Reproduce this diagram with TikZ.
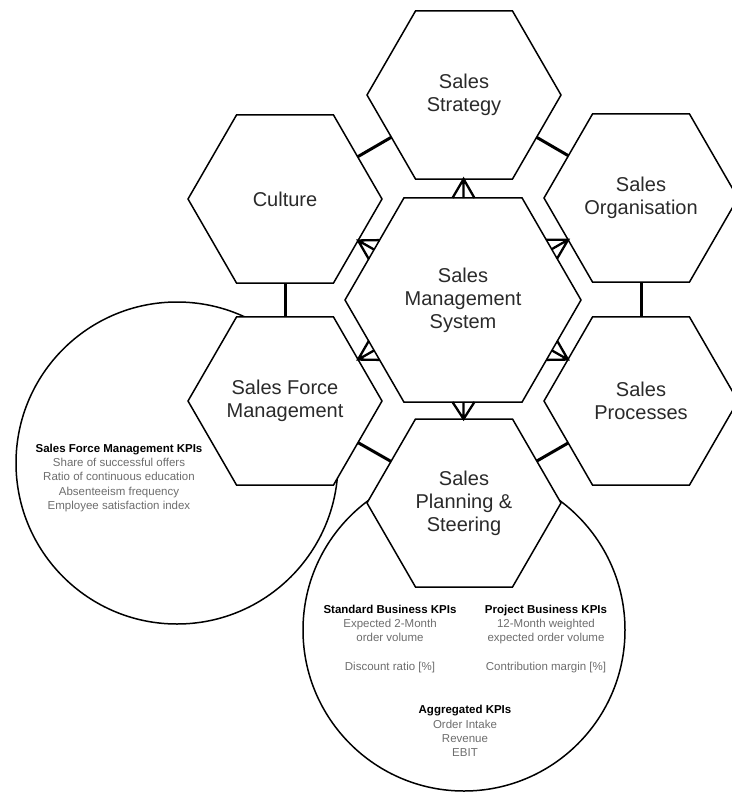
\documentclass[tikz,border=0pt]{standalone}
\usepackage{fontspec}
\setmainfont{Liberation Sans}
\usetikzlibrary{shapes.geometric,calc}
\definecolor{hextext}{HTML}{2A2A2A}
\definecolor{kpigray}{HTML}{6E6E6E}
\begin{document}
\begin{tikzpicture}[x=1pt,y=-1pt,
  hexbig/.style={regular polygon, regular polygon sides=6, minimum size=236pt, inner sep=0pt, draw=black, line width=1.5pt, fill=white, align=center, text=hextext, font=\fontsize{20}{23}\selectfont},
  hexsmall/.style={hexbig, minimum size=194pt},
  kpicircle/.style={circle, draw=black, line width=1.5pt, fill=white, minimum size=322pt, inner sep=0pt},
  link/.style={line width=3pt},
  foot/.style={line width=2.3pt, line join=miter},
  kpibody/.style={align=center, font=\fontsize{11.5}{14.3}\selectfont, text=kpigray, inner sep=0pt}
]
\useasboundingbox (0,0) rectangle (731,792);

% KPI circles (behind)
\node[kpicircle] (kpisfm) at (177,463) {};
\node[kpicircle] (kpiplan) at (464,630) {};

% hexagons
\node[hexbig] (sms) at (463,300) {Sales\\Management\\System};
\node[hexsmall] (strat) at (464,95) {Sales\\Strategy};
\node[hexsmall] (org) at (641,198) {Sales\\Organisation};
\node[hexsmall] (proc) at (641,401) {Sales\\Processes};
\node[hexsmall] (plan) at (464,503) {Sales\\Planning \&\\Steering};
\node[hexsmall] (sfm) at (285,401) {Sales Force\\Management};
\node[hexsmall] (cult) at (285,199) {Culture};

% outer ring links
\draw[link] ($(cult)!84pt!(strat)$) -- ($(strat)!84pt!(cult)$);
\draw[link] ($(strat)!84pt!(org)$) -- ($(org)!84pt!(strat)$);
\draw[link] ($(org)!84pt!(proc)$) -- ($(proc)!84pt!(org)$);
\draw[link] ($(proc)!84pt!(plan)$) -- ($(plan)!84pt!(proc)$);
\draw[link] ($(plan)!84pt!(sfm)$) -- ($(sfm)!84pt!(plan)$);
\draw[link] ($(sfm)!84pt!(cult)$) -- ($(cult)!84pt!(sfm)$);

% crow's foot links to the centre
\foreach \X in {strat,org,proc,plan,sfm,cult} {
  \coordinate (\X-q) at ($(\X)!84pt!(sms)$);
  \coordinate (\X-p) at ($(sms)!102pt!(\X)$);
  \draw[foot] ($(\X-p)!11pt!90:(sms)$) -- (\X-q) -- ($(\X-p)!11pt!-90:(sms)$)
              (\X-q) -- (\X-p);
}

% KPI texts
\node[kpibody] (kpisfmtext) at (119,478) {\textcolor{black}{\bfseries Sales Force Management KPIs}\\Share of successful offers\\Ratio of continuous education\\Absenteeism frequency\\Employee satisfaction index};
\node[kpibody] (kpistd) at (390,639) {\textcolor{black}{\bfseries Standard Business KPIs}\\Expected 2-Month\\order volume\\[14.3pt]Discount ratio [\%]};
\node[kpibody] (kpiproj) at (546,639) {\textcolor{black}{\bfseries Project Business KPIs}\\12-Month weighted\\expected order volume\\[14.3pt]Contribution margin [\%]};
\node[kpibody] (kpiagg) at (465,731) {\textcolor{black}{\bfseries Aggregated KPIs}\\Order Intake\\Revenue\\EBIT};
\end{tikzpicture}
\end{document}
